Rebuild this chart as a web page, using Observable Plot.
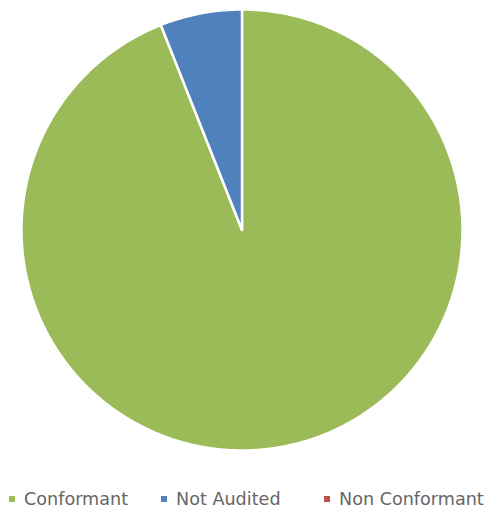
<!DOCTYPE html>
<html><head><meta charset="utf-8">
<script src="https://cdn.jsdelivr.net/npm/d3@7"></script>
<script src="https://cdn.jsdelivr.net/npm/@observablehq/plot@0.6"></script>
<style>
body{margin:0;background:#fff;font-family:"DejaVu Sans",sans-serif;}
#wrap{position:relative;width:493px;height:516px;}
.leg{position:absolute;top:489px;font-size:17.6px;color:#666;display:flex;align-items:center;white-space:nowrap;}
.sw{display:inline-block;width:6px;height:6px;margin-right:9px;}
</style></head><body>
<div id="wrap"></div>
<script>
const categories = ["Conformant", "Not Audited", "Non Conformant"];
const values = [94, 6, 0];
const colors = ["#9BBB59", "#4F81BD", "#C0504D"];

const arcs = d3.pie().sort(null).value(d => d.value)(categories.map((c, i) => ({category: c, value: values[i]})));
const pts = [];
for (const a of arcs) {
  if (a.data.value === 0) continue;
  const steps = Math.max(2, Math.ceil((a.endAngle - a.startAngle) / 0.01));
  pts.push({category: a.data.category, x: 0, y: 0});
  for (let k = 0; k <= steps; k++) {
    const t = a.startAngle + (a.endAngle - a.startAngle) * k / steps;
    pts.push({category: a.data.category, x: Math.sin(t), y: Math.cos(t)});
  }
  pts.push({category: a.data.category, x: 0, y: 0});
}

const chart = Plot.plot({
  width: 493, height: 470,
  marginLeft: 21, marginRight: 31, marginTop: 9, marginBottom: 20,
  x: {domain: [-1, 1], axis: null},
  y: {domain: [-1, 1], axis: null},
  color: {domain: categories, range: colors},
  marks: [
    Plot.line(pts, {x: "x", y: "y", z: "category", fill: "category", stroke: "white", strokeWidth: 2.5, curve: "linear-closed"})
  ]
});
const wrap = document.getElementById("wrap");
wrap.appendChild(chart);
const legX = [9, 161, 324];
categories.forEach((c, i) => {
  const d = document.createElement("div");
  d.className = "leg";
  d.style.left = legX[i] + "px";
  d.innerHTML = `<span class="sw" style="background:${colors[i]}"></span>${c}`;
  wrap.appendChild(d);
});
</script>
</body></html>
